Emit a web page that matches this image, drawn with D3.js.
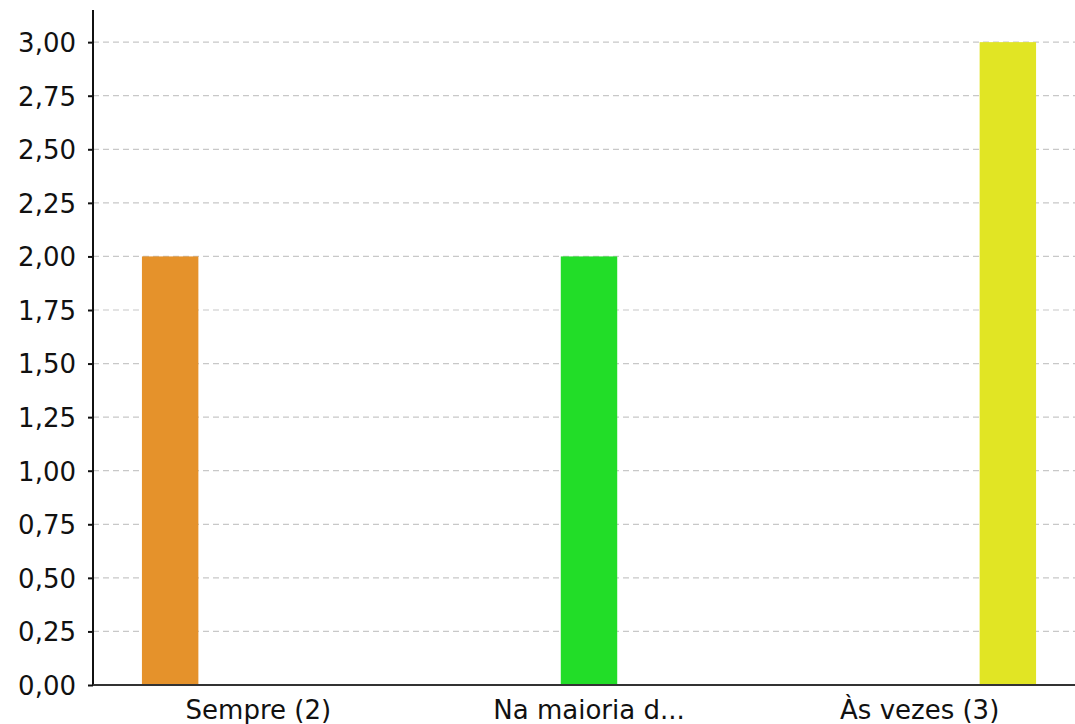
<!DOCTYPE html>
<html>
<head>
  <meta charset="utf-8" />
  <title>Bar chart</title>
  <script src="https://d3js.org/d3.v7.min.js"></script>
  <style>
    body { margin: 0; background: #fff; }
    .axis text { font-family: "DejaVu Sans", sans-serif; font-size: 26px; fill: #111; }
    .grid line { stroke: #c8c8c8; stroke-width: 1.2; stroke-dasharray: 6,4; }
  </style>
</head>
<body>
  <div id="chart"></div>
  <script>
    // categories and series (one series per answer, only its own category filled)
    var categories = ["Sempre (2)", "Na maioria d...", "Às vezes (3)"];
    var seriesNames = ["Sempre", "Na maioria", "Às vezes"];
    var seriesColors = ["#e5922b", "#22dd28", "#e1e524"];
    var seriesValues = [
      [2, 0, 0],
      [0, 2, 0],
      [0, 0, 3]
    ];
    var yTicks = [0, 0.25, 0.5, 0.75, 1, 1.25, 1.5, 1.75, 2, 2.25, 2.5, 2.75, 3];

    var width = 1075, height = 724;
    var plotLeft = 93, plotRight = 1085, plotTop = 10, plotBottom = 685;

    var svg = d3.select("#chart").append("svg")
      .attr("width", width)
      .attr("height", height);

    var x0 = d3.scaleBand()
      .domain(categories)
      .range([plotLeft, plotRight])
      .paddingInner(0.2)
      .paddingOuter(0.1);

    var x1 = d3.scaleBand()
      .domain(seriesNames)
      .range([0, x0.bandwidth()])
      .paddingInner(0.36)
      .paddingOuter(0.18);

    var y = d3.scaleLinear()
      .domain([0, 3.15])
      .range([plotBottom, plotTop]);

    var fmt = function (d) { return d3.format(".2f")(d).replace(".", ","); };

    // grid
    svg.append("g")
      .attr("class", "grid")
      .selectAll("line")
      .data(yTicks)
      .enter()
      .append("line")
      .attr("x1", plotLeft)
      .attr("x2", width)
      .attr("y1", function (d) { return y(d); })
      .attr("y2", function (d) { return y(d); });

    // bars
    var groups = svg.append("g")
      .selectAll("g")
      .data(categories)
      .enter()
      .append("g")
      .attr("transform", function (d) { return "translate(" + x0(d) + ",0)"; });

    groups.selectAll("rect")
      .data(function (c, i) {
        return seriesNames.map(function (s, j) {
          return { series: s, value: seriesValues[j][i], color: seriesColors[j] };
        });
      })
      .enter()
      .append("rect")
      .attr("x", function (d) { return x1(d.series); })
      .attr("width", x1.bandwidth())
      .attr("y", function (d) { return y(d.value); })
      .attr("height", function (d) { return y(0) - y(d.value); })
      .attr("fill", function (d) { return d.color; });

    // y axis
    var yAxis = d3.axisLeft(y)
      .tickValues(yTicks)
      .tickFormat(fmt)
      .tickSize(5)
      .tickPadding(12);

    var yg = svg.append("g")
      .attr("class", "axis")
      .attr("transform", "translate(" + plotLeft + ",0)")
      .call(yAxis);
    yg.select(".domain").remove();
    yg.selectAll(".tick line").attr("stroke", "#111").attr("stroke-width", 2);
    yg.selectAll(".tick text").attr("dy", "0.36em");

    svg.append("line")
      .attr("x1", plotLeft).attr("x2", plotLeft)
      .attr("y1", plotTop).attr("y2", plotBottom + 1)
      .attr("stroke", "#111")
      .attr("stroke-width", 2);

    // x axis
    var xAxis = d3.axisBottom(x0).tickSize(0).tickPadding(16);
    var xg = svg.append("g")
      .attr("class", "axis")
      .attr("transform", "translate(0," + plotBottom + ")")
      .call(xAxis);
    xg.select(".domain").remove();

    svg.append("line")
      .attr("x1", plotLeft).attr("x2", width)
      .attr("y1", plotBottom).attr("y2", plotBottom)
      .attr("stroke", "#333")
      .attr("stroke-width", 2);
  </script>
</body>
</html>
